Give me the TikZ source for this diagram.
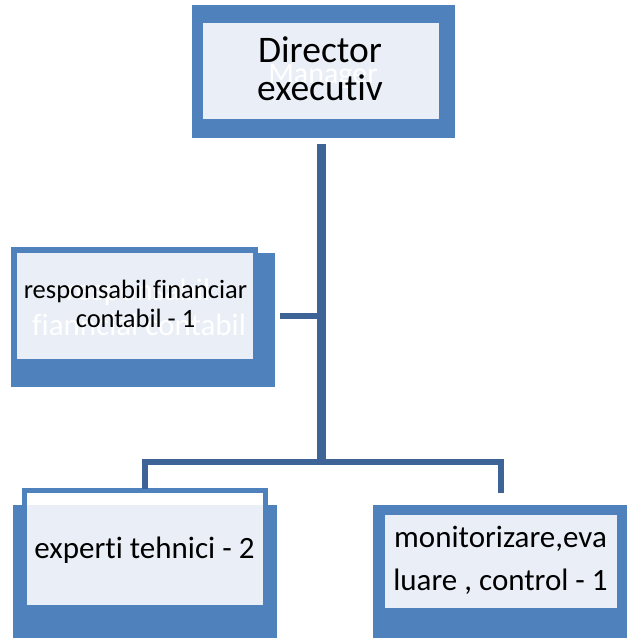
\documentclass[tikz,border=0pt]{standalone}
\usepackage{fontspec}
\setmainfont[RawFeature={-liga;-clig;-calt}]{Carlito}
\definecolor{boxblue}{HTML}{4F81BD}
\definecolor{boxlight}{HTML}{EAEFF7}
\definecolor{lineblue}{HTML}{3E6497}
\begin{document}
\begin{tikzpicture}[x=1pt,y=-1pt,
  backbox/.style={fill=boxblue, draw=none, inner sep=0pt, outer sep=0pt, anchor=north west},
  lightbox/.style={fill=boxlight, draw=none, inner sep=0pt, outer sep=0pt, anchor=north west},
  outlinebox/.style={draw=boxblue, line width=5.5pt},
  conn/.style={draw=lineblue, line join=miter},
  txt/.style={anchor=base, inner sep=0pt, text=black},
  ghost/.style={anchor=base, inner sep=0pt, text=white},
]
\useasboundingbox (0,0) rectangle (627,640);

% top box
\node[backbox, minimum width=263pt, minimum height=133pt] (dirB) at (192,5) {};
\node[lightbox, minimum width=236pt, minimum height=96pt] (dirL) at (203,23) {};
\node[ghost, font=\fontsize{30}{30}\selectfont] (dirG) at (323,83) {Manager};
\node[txt, font=\fontsize{37.5}{37.5}\selectfont] (dirT1) at (320,62) {Director};
\node[txt, font=\fontsize{37.5}{37.5}\selectfont] (dirT2) at (320,100) {executiv};

% left box
\node[backbox, minimum width=264pt, minimum height=134pt] (finB) at (11,253) {};
\node[lightbox, minimum width=236pt, minimum height=106pt] (finL) at (17,253) {};
\draw[outlinebox] (13.75,249.75) rectangle (255.25,372);
\begin{scope}
  \clip (17,253) rectangle (253,359);
  \node[ghost, font=\fontsize{31}{31}\selectfont] (finG1) at (138,300) {responsabil};
  \node[ghost, anchor=base west, font=\fontsize{31}{31}\selectfont] (finG2) at (32,335) {fianncial contabil};
\end{scope}
\node[txt, font=\fontsize{26.5}{26.5}\selectfont] (finT1) at (135.5,298) {responsabil financiar};
\node[txt, font=\fontsize{26.5}{26.5}\selectfont] (finT2) at (135.5,327) {contabil - 1};

% bottom left box
\node[backbox, minimum width=264pt, minimum height=133pt] (expB) at (13,505) {};
\node[lightbox, minimum width=236pt, minimum height=100pt] (expL) at (27,505) {};
\draw[outlinebox, line width=5pt] (24.5,490.5) rectangle (265.5,620);
\node[txt, font=\fontsize{31}{31}\selectfont] (expT) at (144.5,558) {experti tehnici - 2};

% bottom right box
\node[backbox, minimum width=254pt, minimum height=133pt] (monB) at (373,505) {};
\node[lightbox, minimum width=232pt, minimum height=93pt] (monL) at (385,515) {};
\node[txt, font=\fontsize{31}{31}\selectfont] (monT1) at (500.5,547) {monitorizare,eva};
\node[txt, font=\fontsize{31}{31}\selectfont] (monT2) at (500.5,590) {luare , control - 1};

% connectors
\coordinate (trTop) at (321.5,144);
\coordinate (trBot) at (321.5,462);
\coordinate (finEnd) at (280,316);
\coordinate (finJoin) at (321.5,316);
\coordinate (expEnd) at (145,489);
\coordinate (monTurn) at (501,462);
\coordinate (monEnd) at (501,493);
\draw[conn, line width=9pt] (trTop) -- (trBot);
\draw[conn, line width=6pt] (finEnd) -- (finJoin);
\draw[conn, line width=5.7pt] (expEnd) |- (monTurn) -- (monEnd);
\end{tikzpicture}
\end{document}
